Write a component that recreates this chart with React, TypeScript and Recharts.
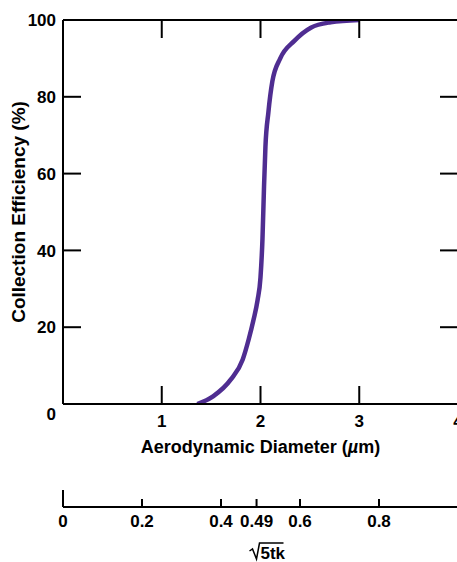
import { LineChart, Line, XAxis, YAxis } from 'recharts';

const DIAMETER = [1.36, 1.52, 1.7, 1.82, 1.88, 1.93, 1.97, 2.0, 2.02, 2.035, 2.05, 2.08, 2.12, 2.2, 2.34, 2.51, 2.71, 3.0];
const EFFICIENCY = [0, 2, 6.4, 11.6, 16.8, 22, 27, 33, 43, 56, 67, 76, 84, 90, 94.5, 98, 99.4, 100];

const X_TICKS = [1, 2, 3, 4];
const Y_TICKS = [0, 20, 40, 60, 80, 100];
const SIDE_TICKS = [20, 40, 60, 80];
const SQRT_TICKS = [0, 0.2, 0.4, 0.49, 0.6, 0.8, 1];

const FONT = "'Liberation Sans', Arial, sans-serif";
const CURVE = '#4f2d91';

const data = DIAMETER.map((d, i) => ({ d, eff: EFFICIENCY[i] }));

function YTick(props: any) {
  const { x, y, payload } = props;
  const shift = payload.value === 0 ? 10 : 0;
  return (
    <text x={x} y={y + shift} dy="0.36em" textAnchor="end" fontFamily={FONT} fontWeight="bold" fontSize={17} fill="#000">
      {payload.value}
    </text>
  );
}

function XTick(props: any) {
  const { x, y, payload } = props;
  return (
    <text x={x} y={y} dy="0.71em" textAnchor="middle" fontFamily={FONT} fontWeight="bold" fontSize={17} fill="#000">
      {payload.value}
    </text>
  );
}

function SqrtTick(props: any) {
  const { x, y, payload } = props;
  const axisY = y - 8;
  const end = payload.value === 0 || payload.value === 1;
  return (
    <g>
      <line x1={x} x2={x} y1={axisY} y2={axisY - (end ? 17 : 8)} stroke="#000" strokeWidth={2} />
      {payload.value !== 1 && (
        <text x={x} y={y} dy="0.71em" textAnchor="middle" fontFamily={FONT} fontWeight="bold" fontSize={17} fill="#000">
          {payload.value}
        </text>
      )}
    </g>
  );
}

function DiameterLabel(props: any) {
  const vb = props.viewBox;
  const cx = vb.x + vb.width / 2;
  return (
    <text x={cx} y={vb.y + 49} textAnchor="middle" fontFamily={FONT} fontWeight="bold" fontSize={18} fill="#000">
      Aerodynamic Diameter (<tspan fontStyle="italic">µ</tspan>m)
    </text>
  );
}

function SqrtLabel(props: any) {
  const vb = props.viewBox;
  const cx = vb.x + vb.width / 2 + 5;
  const base = vb.y + 52;
  return (
    <g>
      <path
        d={`M${cx - 16} ${base - 8} L${cx - 13} ${base - 10} L${cx - 9} ${base} L${cx - 6} ${base - 16} L${cx + 18} ${base - 16}`}
        fill="none"
        stroke="#000"
        strokeWidth={1.5}
      />
      <text x={cx - 5} y={base} textAnchor="start" fontFamily={FONT} fontWeight="bold" fontSize={17} fill="#000">
        5tk
      </text>
    </g>
  );
}

function EfficiencyLabel(props: any) {
  const vb = props.viewBox;
  const cy = vb.y + vb.height / 2;
  return (
    <text
      x={18}
      y={cy}
      transform={`rotate(-90 18 ${cy})`}
      dy="0.36em"
      textAnchor="middle"
      fontFamily={FONT}
      fontWeight="bold"
      fontSize={19}
      fill="#000"
    >
      Collection Efficiency (%)
    </text>
  );
}

export default function App() {
  const axisLine = { stroke: '#000', strokeWidth: 2 };
  const tickLine = { stroke: '#000', strokeWidth: 2 };
  return (
    <div style={{ position: 'absolute', left: 0, top: 0, background: 'white' }}>
      <LineChart width={480} height={562} data={data} margin={{ top: 19, right: 21, bottom: 0, left: 0 }}>
        <XAxis
          dataKey="d"
          type="number"
          domain={[0, 4]}
          allowDataOverflow
          ticks={X_TICKS}
          height={103}
          axisLine={axisLine}
          tickLine={tickLine}
          tickSize={-18}
          tickMargin={29}
          tick={<XTick />}
          label={<DiameterLabel />}
        />
        <XAxis
          xAxisId="sqrt"
          dataKey="d"
          type="number"
          domain={[0, 1]}
          allowDataOverflow
          ticks={SQRT_TICKS}
          height={55}
          axisLine={axisLine}
          tickLine={false}
          tickSize={0}
          tickMargin={8}
          tick={<SqrtTick />}
          label={<SqrtLabel />}
        />
        <XAxis
          xAxisId="top"
          dataKey="d"
          orientation="top"
          type="number"
          domain={[0, 4]}
          allowDataOverflow
          ticks={X_TICKS}
          height={1}
          axisLine={axisLine}
          tickLine={tickLine}
          tickSize={-18}
          tickFormatter={() => ''}
        />
        <YAxis
          type="number"
          domain={[0, 100]}
          allowDataOverflow
          ticks={Y_TICKS}
          width={63}
          axisLine={axisLine}
          tickLine={tickLine}
          tickSize={-18}
          tickMargin={25}
          tick={<YTick />}
          label={<EfficiencyLabel />}
        />
        <YAxis
          yAxisId="right"
          orientation="right"
          type="number"
          domain={[0, 100]}
          allowDataOverflow
          ticks={SIDE_TICKS}
          width={1}
          axisLine={axisLine}
          tickLine={tickLine}
          tickSize={-18}
          tickFormatter={() => ''}
        />
        <Line
          dataKey="eff"
          type="monotone"
          stroke={CURVE}
          strokeWidth={4.5}
          dot={false}
          isAnimationActive={false}
        />
      </LineChart>
    </div>
  );
}
